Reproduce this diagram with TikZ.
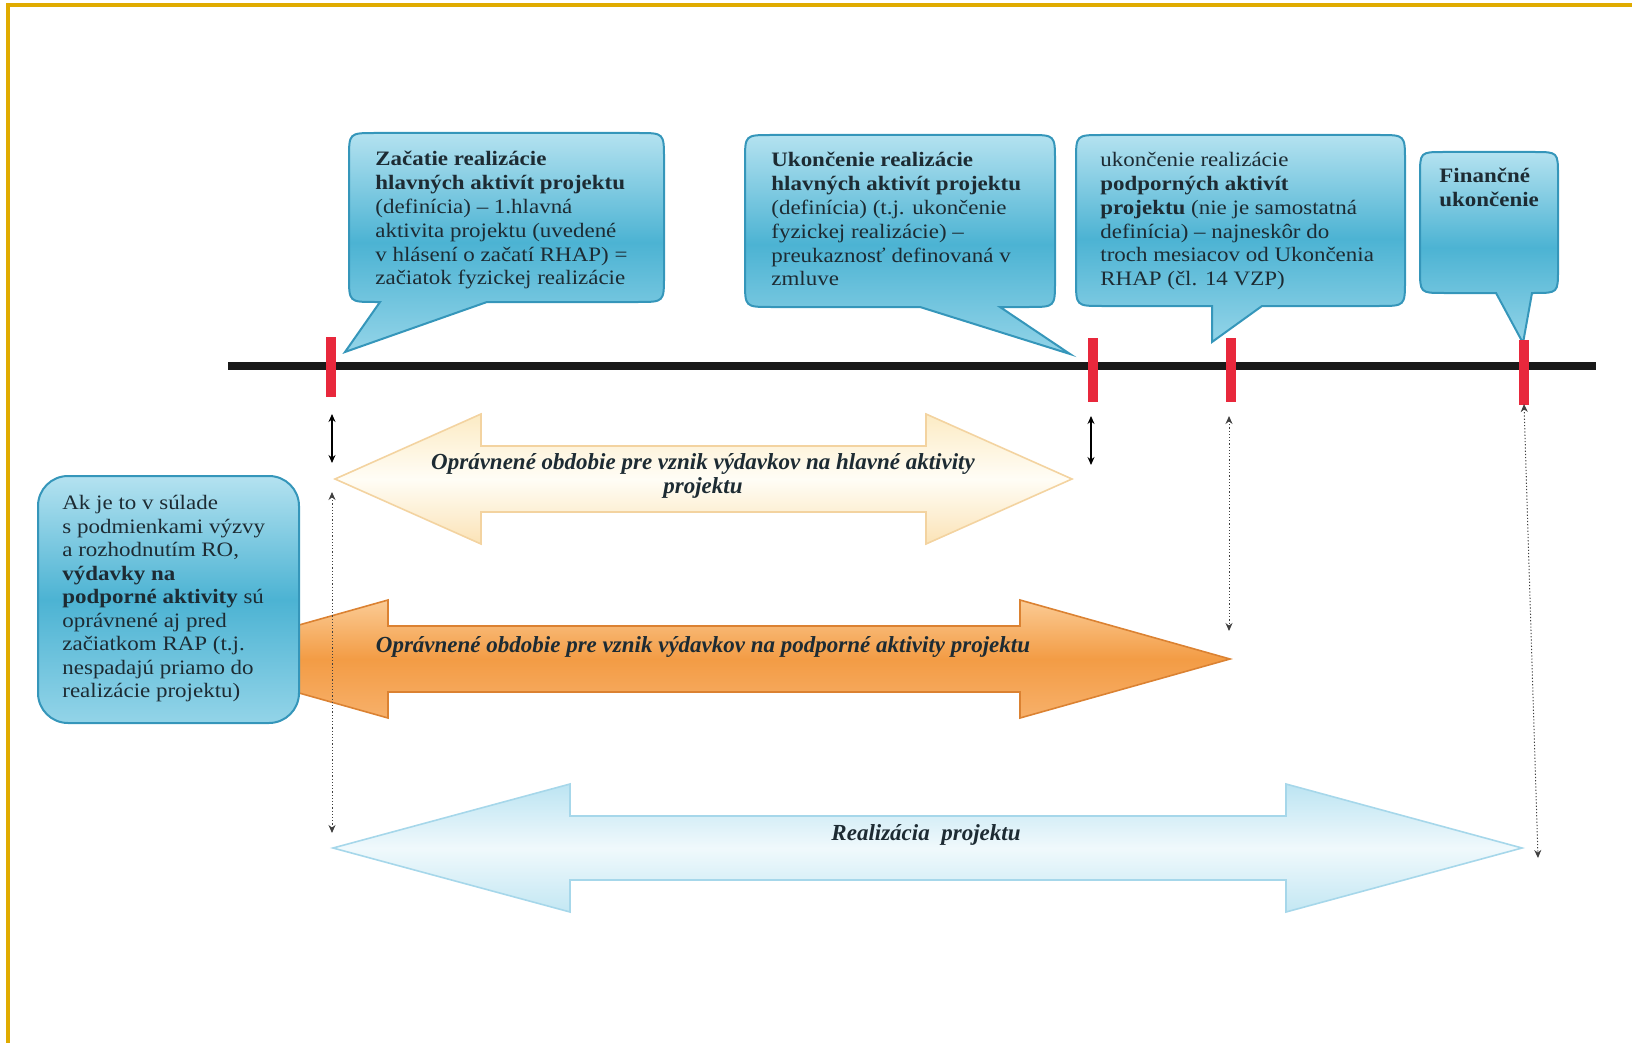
\documentclass[tikz,border=0pt]{standalone}
\usepackage{fontspec}
\setmainfont{Liberation Serif}[FakeStretch=1.12]
\newfontfamily\periodfont{Liberation Serif}
\usepackage{tikz}
\usetikzlibrary{arrows.meta}

\definecolor{gold}{HTML}{E0AB00}
\definecolor{calltop}{HTML}{B4E2F0}
\definecolor{callmid}{HTML}{4CB3D3}
\definecolor{callbot}{HTML}{93D4E8}
\definecolor{callline}{HTML}{3596BA}
\definecolor{redmark}{HTML}{E8283C}
\definecolor{txt}{HTML}{1D2B33}
\definecolor{creamtop}{HTML}{FCEBC4}
\definecolor{creammid}{HTML}{FFFDF6}
\definecolor{creambot}{HTML}{FBE3B6}
\definecolor{creamline}{HTML}{F3D3A0}
\definecolor{orangetop}{HTML}{FBCB94}
\definecolor{orangemid}{HTML}{F39C45}
\definecolor{orangebot}{HTML}{F7B06A}
\definecolor{orangeline}{HTML}{DB8232}
\definecolor{bluetop}{HTML}{BCE4F2}
\definecolor{bluemid}{HTML}{F0F9FC}
\definecolor{bluebot}{HTML}{C3E7F3}
\definecolor{blueline}{HTML}{A6D7EA}

\tikzset{
  bubble/.style={draw=callline, line width=1pt, top color=calltop, bottom color=callbot, middle color=callmid},
  bubbletext/.style={anchor=north west, inner sep=0pt, align=left, text=txt, font=\fontsize{10.25}{11.9}\selectfont},
  periodtext/.style={inner sep=0pt, align=center, text=txt, font=\periodfont\bfseries\itshape\fontsize{11.5}{12}\selectfont},
  mainperiod/.style={draw=creamline, line width=0.8pt, top color=creamtop, bottom color=creambot, middle color=creammid},
  suppperiod/.style={draw=orangeline, line width=0.8pt, top color=orangetop, bottom color=orangebot, middle color=orangemid},
  realperiod/.style={draw=blueline, line width=0.8pt, top color=bluetop, bottom color=bluebot, middle color=bluemid},
  redtick/.style={draw=redmark, line width=5pt},
  span/.style={{Stealth[length=4pt,width=3.5pt]}-{Stealth[length=4pt,width=3.5pt]}, line width=0.6pt, black},
  dotspan/.style={span, densely dotted, line width=0.5pt, black!75}
}

\begin{document}
\begin{tikzpicture}[x=0.5pt, y=-0.5pt]
	% Frame
	\useasboundingbox (0,0) rectangle (1632,1043);
	\draw[gold, line width=2pt] (8,1043) -- (8,5) -- (1632,5);
	
	% Periods
	\path[mainperiod] (335,479) -- (481,414) -- (481,446) -- (926,446) -- (926,414) -- (1072,479)
		-- (926,544) -- (926,512) -- (481,512) -- (481,544) -- cycle;
	\path[suppperiod] (178,659) -- (388,600) -- (388,626) -- (1020,626) -- (1020,600) -- (1230,659)
		-- (1020,718) -- (1020,692) -- (388,692) -- (388,718) -- cycle;
	\path[realperiod] (333,848) -- (570,784) -- (570,816) -- (1286,816) -- (1286,784) -- (1522,848)
		-- (1286,912) -- (1286,880) -- (570,880) -- (570,912) -- cycle;
	\node[periodtext] (hlavne) at (703,476) {Oprávnené obdobie pre vznik výdavkov na hlavné aktivity\\projektu};
	\node[periodtext] (podporne) at (703,647) {Oprávnené obdobie pre vznik výdavkov na podporné aktivity projektu};
	\node[periodtext] (real) at (926,835) {Realizácia\ \ projektu};
	
	% Note on support activities
	\draw[bubble, rounded corners=15pt] (38,476) rectangle (299,723);
	\node[bubbletext, font=\fontsize{10.25}{11.75}\selectfont] (note) at (62,495)
		{Ak je to v súlade\\s podmienkami výzvy\\a rozhodnutím RO,\\\textbf{výdavky na}\\
		 \textbf{podporné aktivity} sú\\oprávnené aj pred\\začiatkom RAP (t.j.\\nespadajú priamo do\\realizácie projektu)};
	
	% Callouts
	\path[bubble] (375,133) -- (638,133) .. controls (664,133) .. (664,159) -- (664,276) .. controls (664,302) .. (638,302)
		-- (487,302) -- (345,352) -- (380,302) -- (375,302) .. controls (349,302) .. (349,276) -- (349,159) .. controls (349,133) .. (375,133) -- cycle;
	\path[bubble] (771,135) -- (1029,135) .. controls (1055,135) .. (1055,161) -- (1055,281) .. controls (1055,307) .. (1029,307)
		-- (1000,307) -- (1070,354) -- (920,307) -- (771,307) .. controls (745,307) .. (745,281) -- (745,161) .. controls (745,135) .. (771,135) -- cycle;
	\path[bubble] (1102,135) -- (1379,135) .. controls (1405,135) .. (1405,161) -- (1405,280) .. controls (1405,306) .. (1379,306)
		-- (1262,306) -- (1212,342) -- (1212,306) -- (1102,306) .. controls (1076,306) .. (1076,280) -- (1076,161) .. controls (1076,135) .. (1102,135) -- cycle;
	\path[bubble] (1444,152) -- (1534,152) .. controls (1558,152) .. (1558,176) -- (1558,269) .. controls (1558,293) .. (1534,293)
		-- (1532,293) -- (1523,343) -- (1496,293) -- (1444,293) .. controls (1420,293) .. (1420,269) -- (1420,176) .. controls (1420,152) .. (1444,152) -- cycle;
	
	\node[bubbletext] (start) at (375,151)
		{\textbf{Začatie realizácie}\\\textbf{hlavných aktivít projektu}\\(definícia) – 1.hlavná\\aktivita projektu (uvedené\\v hlásení o začatí RHAP) =\\začiatok fyzickej realizácie};
	\node[bubbletext] (mainend) at (771,152)
		{\textbf{Ukončenie realizácie}\\\textbf{hlavných aktivít projektu}\\(definícia) (t.j. ukončenie\\fyzickej realizácie) –\\preukaznosť definovaná v\\zmluve};
	\node[bubbletext] (suppend) at (1100,152)
		{ukončenie realizácie\\\textbf{podporných aktivít}\\\textbf{projektu} (nie je samostatná\\definícia) – najneskôr do\\troch mesiacov od Ukončenia\\RHAP (čl. 14 VZP)};
	\node[bubbletext] (fin) at (1439,168) {\textbf{Finančné}\\\textbf{ukončenie}};
	
	% Timeline
	\coordinate (tl0) at (228,366);
	\coordinate (tl1) at (1596,366);
	\draw[line width=4pt, black!90] (tl0) -- (tl1);
	\draw[redtick] (331,337) -- (331,397);
	\draw[redtick] (1093,338) -- (1093,402);
	\draw[redtick] (1231,338) -- (1231,402);
	\draw[redtick] (1524,340) -- (1524,405);
	
	% Spans
	\coordinate (s1a) at (332,414);
	\coordinate (s1b) at (332,463);
	\coordinate (s2a) at (1091,416);
	\coordinate (s2b) at (1091,465);
	\coordinate (d1a) at (332,492);
	\coordinate (d1b) at (332,833);
	\coordinate (d2a) at (1229,416);
	\coordinate (d2b) at (1229,631);
	\coordinate (d3a) at (1524,404);
	\coordinate (d3b) at (1538,858);
	\draw[span] (s1a) -- (s1b);
	\draw[span] (s2a) -- (s2b);
	\draw[dotspan] (d1a) -- (d1b);
	\draw[dotspan] (d2a) -- (d2b);
	\draw[dotspan] (d3a) -- (d3b);
\end{tikzpicture}
\end{document}
